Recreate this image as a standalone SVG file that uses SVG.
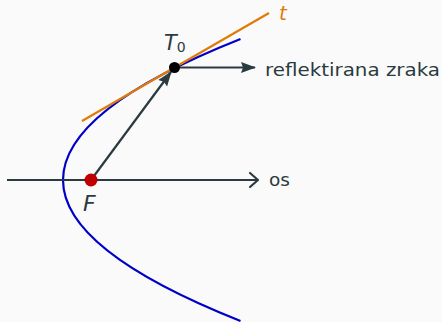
<svg xmlns="http://www.w3.org/2000/svg" width="442" height="322" viewBox="0 0 442 322">
  <defs>
    <style>
      .ink { stroke: #2b3a3f; stroke-width: 2.2; fill: none; }
      .lbl { font-family: "DejaVu Sans", "Liberation Sans", sans-serif; fill: #2b3a3f; }
      .math { font-family: "DejaVu Sans", "Liberation Sans", sans-serif; font-style: italic; }
    </style>
    <marker id="head" markerUnits="userSpaceOnUse" markerWidth="16" markerHeight="12" refX="14" refY="5.5" orient="auto" overflow="visible">
      <path d="M0,0 L15,5.5 L0,11 L2,5.5 z" fill="#2b3a3f"/>
    </marker>
    <marker id="chev" markerUnits="userSpaceOnUse" markerWidth="12" markerHeight="18" refX="9" refY="8" orient="auto" overflow="visible">
      <path d="M1,1 L9,8 L1,15" fill="none" stroke="#2b3a3f" stroke-width="2.2" stroke-linecap="round" stroke-linejoin="round"/>
    </marker>
  </defs>
  <rect width="442" height="322" fill="#fafafa"/>

  <g id="parabola">
    <path d="M240.5,39 Q-114.5,180 240.5,321" fill="none" stroke="#0000c8" stroke-width="2.2"/>
  </g>

  <g id="connectors">
    <line id="axis" class="ink" x1="7" y1="180" x2="258" y2="180" marker-end="url(#chev)"/>
    <line id="ray-in" class="ink" x1="91" y1="180" x2="171" y2="72" marker-end="url(#head)"/>
    <line id="ray-out" class="ink" x1="174" y1="67.5" x2="255" y2="67.5" marker-end="url(#head)"/>
  </g>

  <g id="tangent">
    <line x1="82" y1="121" x2="269" y2="13" stroke="#e07b0a" stroke-width="2.2"/>
    <text class="math" x="279" y="20" font-size="20" fill="#e07b0a">t</text>
  </g>

  <g id="T0">
    <circle cx="174.5" cy="67.5" r="5.5" fill="#000000"/>
    <text class="math" x="164" y="50" font-size="21" fill="#2b3a3f">T<tspan font-style="normal" font-size="14" dy="2">0</tspan></text>
  </g>

  <g id="F">
    <circle cx="91" cy="180" r="6.5" fill="#c00000"/>
    <text class="math" x="83" y="211" font-size="22" fill="#2b3a3f">F</text>
  </g>

  <g id="label-reflected">
    <text class="lbl" x="265" y="76" font-size="18.5" textLength="175" lengthAdjust="spacingAndGlyphs">reflektirana zraka</text>
  </g>

  <g id="label-axis">
    <text class="lbl" x="269" y="186" font-size="18.5">os</text>
  </g>
</svg>
